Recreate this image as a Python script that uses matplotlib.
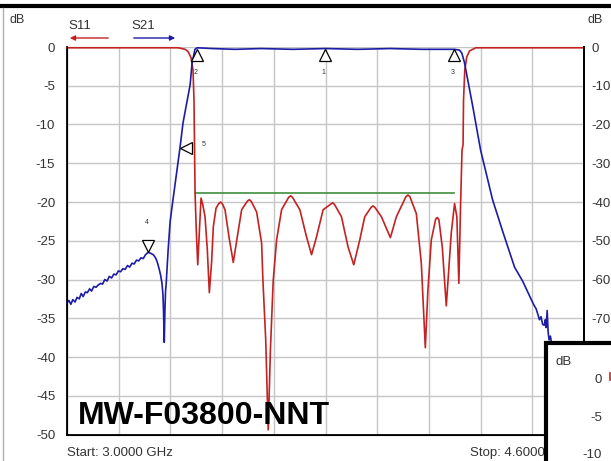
import matplotlib
matplotlib.use("Agg")
import matplotlib.pyplot as plt
from matplotlib.lines import Line2D
from matplotlib.patches import Rectangle, FancyArrowPatch

plt.rcParams["font.family"] = ["Liberation Sans", "DejaVu Sans"]

# S21 trace (left-axis dB units)
s21_ghz = [3.000, 3.006, 3.012, 3.018, 3.025, 3.031, 3.038, 3.044, 3.050, 3.057,
           3.063, 3.070, 3.076, 3.083, 3.090, 3.097, 3.104, 3.110, 3.117, 3.124,
           3.131, 3.138, 3.145, 3.152, 3.159, 3.166, 3.173, 3.180, 3.187, 3.194,
           3.201, 3.208, 3.215, 3.222, 3.229, 3.236, 3.243, 3.251, 3.258, 3.267,
           3.274, 3.279, 3.285, 3.290, 3.294, 3.297, 3.299, 3.301, 3.303, 3.305,
           3.307, 3.313, 3.319, 3.328, 3.350, 3.359, 3.381, 3.387, 3.396, 3.403,
           3.450, 3.520, 3.600, 3.700, 3.800, 3.900, 4.000, 4.100, 4.199, 4.215,
           4.222, 4.230, 4.255, 4.280, 4.317, 4.350, 4.385, 4.410, 4.437, 4.445,
           4.452, 4.458, 4.462, 4.467, 4.472, 4.477, 4.480, 4.483, 4.486, 4.489,
           4.492, 4.496, 4.500, 4.510]
s21_db = [-33.0, -32.7, -33.2, -32.6, -32.9, -32.3, -32.5, -31.8, -32.2, -31.6,
          -31.7, -31.2, -31.5, -30.9, -31.0, -30.7, -30.5, -30.6, -30.0, -30.2,
          -29.6, -29.8, -29.3, -29.4, -28.9, -29.0, -28.6, -28.7, -28.2, -28.4,
          -27.9, -28.0, -27.5, -27.6, -27.2, -27.3, -26.8, -26.5, -26.6, -26.8,
          -27.2, -27.7, -28.6, -29.5, -30.5, -32.0, -34.5, -38.1, -34.0, -31.5,
          -30.5, -26.2, -22.6, -19.7, -12.9, -9.8, -4.9, -2.1, -0.3, -0.1,
          -0.2, -0.3, -0.2, -0.3, -0.2, -0.3, -0.2, -0.3, -0.3, -0.4,
          -0.8, -2.0, -7.5, -13.3, -19.7, -24.0, -28.4, -30.2, -32.6, -33.3,
          -33.8, -34.6, -35.2, -34.8, -35.8, -35.9, -35.2, -36.2, -34.0, -36.8,
          -37.8, -37.3, -38.3, -39.0]

# S11 trace
s11_ghz = [3.000, 3.200, 3.344, 3.366, 3.375, 3.384, 3.390, 3.393, 3.3963, 3.4000,
           3.4046, 3.4100, 3.4148, 3.4200, 3.4272, 3.4343, 3.4405, 3.4479, 3.4528, 3.4612,
           3.4697, 3.4757, 3.4817, 3.4890, 3.5013, 3.5146, 3.5270, 3.5405, 3.5580, 3.5640,
           3.5700, 3.5869, 3.6023, 3.6063, 3.6150, 3.6227, 3.6295, 3.6382, 3.6487, 3.6641,
           3.6859, 3.6919, 3.6979, 3.7206, 3.7413, 3.7568, 3.7722, 3.7926, 3.8156, 3.8216,
           3.8276, 3.8494, 3.8698, 3.8874, 3.9060, 3.9214, 3.9410, 3.9470, 3.9530, 3.9730,
           4.0008, 4.0193, 4.0491, 4.0551, 4.0611, 4.0811, 4.0965, 4.1089, 4.1169, 4.1274,
           4.1410, 4.1460, 4.1510, 4.1614, 4.1738, 4.1892, 4.1994, 4.2065, 4.2127, 4.2179,
           4.2225, 4.2257, 4.2272, 4.2310, 4.2370, 4.2460, 4.2650, 4.4000, 4.6000]
s11_db = [-0.1, -0.1, -0.1, -0.3, -0.6, -1.4, -3.0, -6.8, -18.8, -23.6,
          -28.1, -23.5, -19.5, -20.3, -21.9, -26.2, -31.7, -27.5, -23.2, -20.8,
          -20.2, -20.0, -20.3, -21.0, -24.5, -27.8, -24.5, -21.0, -19.9, -19.7,
          -19.9, -21.3, -25.3, -30.1, -37.8, -49.4, -39.1, -30.1, -24.9, -21.0,
          -19.4, -19.2, -19.4, -21.0, -24.5, -26.8, -24.5, -21.0, -20.3, -20.1,
          -20.3, -21.9, -25.8, -28.1, -24.9, -21.9, -20.7, -20.5, -20.7, -21.9,
          -24.6, -21.9, -19.3, -19.1, -19.3, -21.5, -27.9, -38.8, -31.4, -24.9,
          -22.2, -22.0, -22.3, -25.8, -33.4, -24.0, -20.2, -21.9, -30.5, -20.6,
          -13.3, -12.6, -6.8, -3.0, -1.3, -0.5, -0.1, -0.1, -0.1]

# limit line
limit_ghz = [3.396, 4.199]
limit_db = [-18.9, -18.9]

# passband markers
marker_labels = ["1", "2", "3"]
marker_ghz = [3.798, 3.403, 4.199]

x_ticks = [3.0 + 0.16 * i for i in range(11)]
left_ticks = list(range(0, -55, -5))
right_ticks = list(range(0, -80, -10))

W, H = 611, 461
fig = plt.figure(figsize=(W / 100, H / 100), dpi=100)
fig.patch.set_facecolor("white")
txt = "#333333"


def fx(px):
    return px / W


def fy(py):
    return 1 - py / H


ax = fig.add_axes([fx(67), fy(434.5), fx(584) - fx(67), fy(47) - fy(434.5)])
ax.set_xlim(3.0, 4.6)
ax.set_ylim(-50, 0)
ax.set_xticks(x_ticks)
ax.set_yticks(left_ticks)
ax.set_xticklabels([])
ax.set_yticklabels([str(t) for t in left_ticks], fontsize=9.5, color=txt)
ax.tick_params(axis="both", length=0)
ax.tick_params(axis="y", pad=8.5)
ax.grid(True, color="#c6c6c6", linewidth=1.0)
ax.set_axisbelow(True)
ax.spines["top"].set_visible(False)
for s in ["left", "bottom", "right"]:
    ax.spines[s].set_linewidth(1.3)
    ax.spines[s].set_color("black")

ax2 = ax.twinx()
ax2.set_ylim(-100, 0)
ax2.set_yticks(right_ticks)
ax2.set_yticklabels([str(t) for t in right_ticks], fontsize=9.5, color=txt)
ax2.tick_params(axis="y", length=0, pad=5.5)
ax2.spines["top"].set_visible(False)
ax2.spines["right"].set_linewidth(1.3)

ax.plot(limit_ghz, limit_db, color="#3d8f3d", linewidth=1.2, zorder=3)
ax.plot(s11_ghz, s11_db, color="#c42222", linewidth=1.2, zorder=4, clip_on=False)
ax.plot(s21_ghz, s21_db, color="#1c1ca6", linewidth=1.2, zorder=5, clip_on=False)

# marker symbols
for lab, g in zip(marker_labels, marker_ghz):
    ax.plot([g], [-1.0], marker="^", markersize=8, markerfacecolor="white",
            markeredgecolor="black", markeredgewidth=0.9, zorder=6, clip_on=False)
    ax.text(g - 0.004, -3.3, lab, fontsize=5, ha="center", va="center", color=txt)
ax.plot([3.251], [-25.7], marker="v", markersize=8, markerfacecolor="white",
        markeredgecolor="black", markeredgewidth=0.9, zorder=6)
ax.text(3.246, -22.6, "4", fontsize=5, ha="center", va="center", color=txt)
ax.plot([3.369], [-13.0], marker="<", markersize=8, markerfacecolor="white",
        markeredgecolor="black", markeredgewidth=0.9, zorder=6)
ax.text(3.422, -12.6, "5", fontsize=5, ha="center", va="center", color=txt)

ax.text(3.033, -48.6, "MW-F03800-NNT", fontsize=23, fontweight="bold",
        ha="left", va="baseline", color="black", zorder=8)

# header
fig.text(fx(9), fy(20), "dB", fontsize=9, color=txt, ha="left", va="center")
fig.text(fx(588), fy(20), "dB", fontsize=9, color=txt, ha="left", va="center")
fig.text(fx(80), fy(26), "S11", fontsize=9.5, color=txt, ha="center", va="center")
fig.text(fx(143), fy(26), "S21", fontsize=9.5, color=txt, ha="center", va="center")
fig.patches.append(FancyArrowPatch((fx(111), fy(38)), (fx(67), fy(38)), transform=fig.transFigure,
                                   arrowstyle="-|>,head_length=3,head_width=1.5", color="#c42222",
                                   linewidth=1.0, figure=fig))
fig.patches.append(FancyArrowPatch((fx(131), fy(38)), (fx(178), fy(38)), transform=fig.transFigure,
                                   arrowstyle="-|>,head_length=3,head_width=1.5", color="#1c1ca6",
                                   linewidth=1.0, figure=fig))

fig.lines.append(Line2D([0, 1], [fy(6), fy(6)], transform=fig.transFigure,
                        color="black", linewidth=3.0, figure=fig))
fig.lines.append(Line2D([fx(2.5), fx(2.5)], [fy(8), 0], transform=fig.transFigure,
                        color="#b0b0b0", linewidth=1.0, figure=fig))

fig.text(fx(67), fy(453), "Start: 3.0000 GHz", fontsize=9.5, color=txt, ha="left", va="center")
fig.text(fx(470), fy(453), "Stop: 4.6000 GHz", fontsize=9.5, color=txt, ha="left", va="center")

# inset box at lower right
fig.patches.append(Rectangle((fx(546), fy(480)), fx(100), fy(343) - fy(480), transform=fig.transFigure,
                             facecolor="white", edgecolor="black", linewidth=3, zorder=10, figure=fig))
fig.text(fx(555), fy(362), "dB", fontsize=9.5, color=txt, ha="left", va="center", zorder=11)
fig.text(fx(602), fy(380), "0", fontsize=9.5, color=txt, ha="right", va="center", zorder=11)
fig.text(fx(602), fy(418), "-5", fontsize=9.5, color=txt, ha="right", va="center", zorder=11)
fig.text(fx(602), fy(455), "-10", fontsize=9.5, color=txt, ha="right", va="center", zorder=11)
fig.lines.append(Line2D([fx(609.5), fx(609.5)], [fy(373), fy(380)], transform=fig.transFigure,
                        color="#c42222", linewidth=1.2, zorder=11, figure=fig))

fig.savefig("out.png", dpi=100)
